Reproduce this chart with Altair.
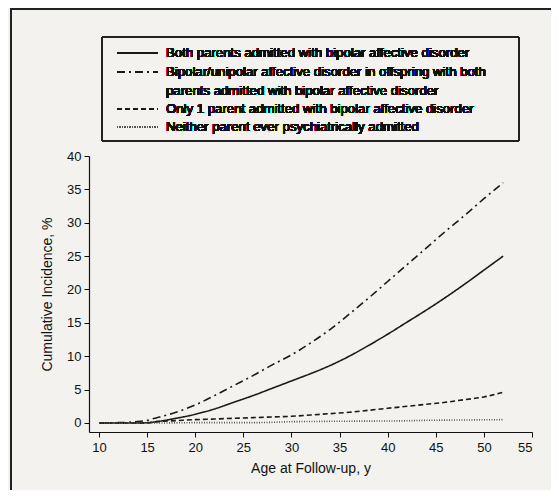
import altair as alt
import pandas as pd

FONT = "Liberation Sans, Arial, Helvetica, sans-serif"

series_names = [
    "Both parents admitted with bipolar affective disorder",
    "Bipolar/unipolar affective disorder in offspring with both parents admitted with bipolar affective disorder",
    "Only 1 parent admitted with bipolar affective disorder",
    "Neither parent ever psychiatrically admitted",
]
legend_lines = [
    ["Both parents admitted with bipolar affective disorder"],
    ["Bipolar/unipolar affective disorder in offspring with both",
     "parents admitted with bipolar affective disorder"],
    ["Only 1 parent admitted with bipolar affective disorder"],
    ["Neither parent ever psychiatrically admitted"],
]

ages = [10, 12, 14, 15, 16, 18, 20, 22, 24, 26, 28, 30, 32, 34, 36, 38, 40, 42, 44, 46, 48, 50, 52]
both_bipolar = [0, 0, 0, 0.05, 0.2, 0.7, 1.3, 2.1, 3.1, 4.1, 5.2, 6.3, 7.4, 8.6, 10.0, 11.6,
                13.3, 15.1, 16.9, 18.8, 20.8, 22.9, 25.0]
both_bi_uni = [0, 0.05, 0.2, 0.4, 0.8, 1.6, 2.7, 4.1, 5.6, 7.1, 8.7, 10.2, 12.0, 14.0, 16.3, 18.7,
               21.2, 23.7, 26.2, 28.7, 31.1, 33.6, 36.0]
one_parent = [0, 0, 0, 0, 0.2, 0.35, 0.5, 0.6, 0.7, 0.8, 0.9, 1.0, 1.2, 1.4, 1.6, 1.9,
              2.2, 2.5, 2.8, 3.1, 3.5, 3.9, 4.6]
neither = [0, 0, 0, 0, 0, 0.02, 0.05, 0.05, 0.05, 0.05, 0.1, 0.2, 0.22, 0.25, 0.27, 0.28,
           0.3, 0.33, 0.4, 0.43, 0.45, 0.48, 0.5]

dashes = [[1, 0], [8, 4, 2, 4], [5, 3], [1, 1.5]]
widths = [1.6, 1.6, 1.6, 1.2]
colors = ["#1a1a1a", "#1a1a1a", "#1a1a1a", "#555555"]

rows = []
for name, vals in zip(series_names, [both_bipolar, both_bi_uni, one_parent, neither]):
    for a, v in zip(ages, vals):
        rows.append({"age": a, "incidence": v, "series": name})
df = pd.DataFrame(rows)

W, H = 443, 276

x_scale = alt.Scale(domain=[8.96, 55], nice=False, zero=False)
y_scale = alt.Scale(domain=[-1.35, 40], nice=False, zero=False)

lines = alt.Chart(df).mark_line(interpolate="monotone").encode(
    x=alt.X("age:Q", scale=x_scale,
            axis=alt.Axis(title="Age at Follow-up, y", values=list(range(10, 56, 5)))),
    y=alt.Y("incidence:Q", scale=y_scale,
            axis=alt.Axis(title="Cumulative Incidence, %", values=list(range(0, 41, 5)))),
    strokeDash=alt.StrokeDash("series:N", scale=alt.Scale(domain=series_names, range=dashes), legend=None),
    strokeWidth=alt.StrokeWidth("series:N", scale=alt.Scale(domain=series_names, range=widths), legend=None),
    color=alt.Color("series:N", scale=alt.Scale(domain=series_names, range=colors), legend=None),
)

# outer frame of the figure
frame = alt.Chart(df).mark_rect(fillOpacity=0, stroke="#222222", strokeWidth=1.2).encode(
    x=alt.value(-78), x2=alt.value(700), y=alt.value(-147), y2=alt.value(600)
)

# legend box
legend_box = alt.Chart(df).mark_rect(fillOpacity=0, stroke="#222222", strokeWidth=1).encode(
    x=alt.value(13), x2=alt.value(430), y=alt.value(-119), y2=alt.value(-15)
)

row_y = [-103, -84, -47, -29]
line_gap = 18.5
legend_layers = []
for i, name in enumerate(series_names):
    legend_layers.append(
        alt.Chart(df).mark_rule(strokeDash=dashes[i], strokeWidth=widths[i], color=colors[i]).encode(
            x=alt.value(28), x2=alt.value(69), y=alt.value(row_y[i])
        )
    )
    for j, txt in enumerate(legend_lines[i]):
        legend_layers.append(
            alt.Chart(df).mark_text(text=txt, align="left", baseline="middle", font=FONT,
                                    fontSize=13.2, color="#111111").encode(
                x=alt.value(77), y=alt.value(row_y[i] + j * line_gap)
            )
        )

chart = alt.layer(frame, legend_box, *legend_layers, lines).properties(
    width=W, height=H,
    autosize=alt.AutoSizeParams(type="none"),
    padding={"left": 81, "top": 148, "right": 19, "bottom": 58},
    background="#f3f2ee",
).configure_view(stroke=None).configure_axis(
    grid=False, domainColor="#111111", tickColor="#111111", labelColor="#111111",
    titleColor="#111111", labelFont=FONT, titleFont=FONT, labelFontSize=13,
    titleFontSize=14, titleFontWeight="normal", tickSize=5, domainWidth=1.2, tickWidth=1,
).configure_axisY(labelPadding=3, titlePadding=12).configure_axisX(labelPadding=4, titlePadding=7)

chart.save("out.html", embed_options={"renderer": "svg", "actions": False})
